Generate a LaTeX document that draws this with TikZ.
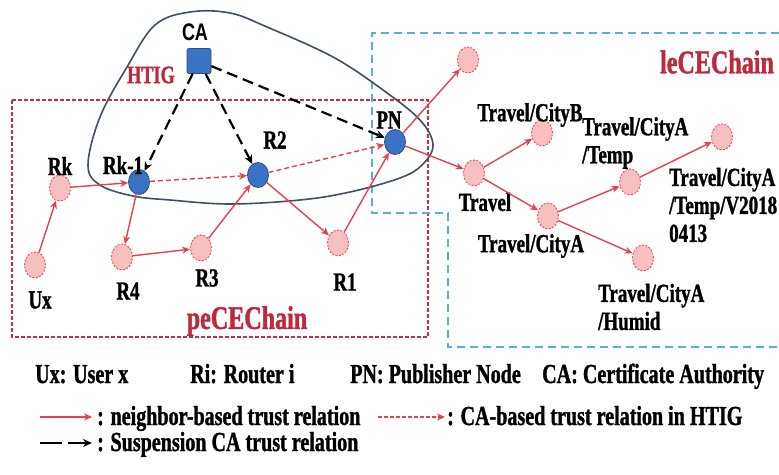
\documentclass[tikz,border=0pt]{standalone}
\usepackage{fontspec}
\setmainfont{Liberation Serif Bold}[FakeStretch=0.73, FakeBold=1.2]
\newfontfamily\casans{Liberation Sans Bold}[FakeStretch=0.75]
\usetikzlibrary{arrows.meta,shapes.geometric,patterns}
\definecolor{ared}{HTML}{E8404E}
\definecolor{dred}{HTML}{C0283C}
\definecolor{boxred}{HTML}{C83040}
\definecolor{npink}{HTML}{F6C2C2}
\definecolor{bblue}{HTML}{3A72C4}
\definecolor{bdark}{HTML}{2A4E8A}
\definecolor{outl}{HTML}{3C5068}
\definecolor{lblue}{HTML}{5AB0D8}
\begin{document}
\begin{tikzpicture}[x=1pt,y=-1pt,
  lbl/.style={font=\fontsize{26}{28}\selectfont, inner sep=0pt, align=left},
  leg/.style={font=\fontsize{27.5}{28}\selectfont, inner sep=0pt, anchor=base west},
  big/.style={font=\fontsize{33}{34}\selectfont, inner sep=0pt, text=dred},
  pnode/.style={ellipse, draw=ared, dash pattern=on 2pt off 1.5pt, line width=0.9pt, fill=npink,
    postaction={pattern=crosshatch dots, pattern color=red!30},
    minimum width=21pt, minimum height=26pt, inner sep=0pt},
  bnode/.style={ellipse, draw=bdark, line width=0.8pt, fill=bblue, minimum width=21pt, minimum height=25pt, inner sep=0pt},
  rarr/.style={draw=ared, line width=1.4pt, -{Stealth[length=8pt,width=7pt]}},
  rdarr/.style={rarr, dash pattern=on 5pt off 3pt},
  karr/.style={draw=black, line width=2.2pt, dash pattern=on 11pt off 6pt, -{Stealth[length=9pt,width=8pt]}}
]
\useasboundingbox (0,0) rectangle (779,474);
\fill[white] (0,0) rectangle (779,474);

% boxes
\draw[boxred, line width=1.3pt, dash pattern=on 4pt off 2pt] (12,100) rectangle (428,337);
\draw[lblue, line width=1.6pt, dash pattern=on 8pt off 5pt] (779,33) -- (372,33) -- (372,213) -- (448,213) -- (448,347) -- (779,347);

% HTIG outline
\draw[outl, line width=1.6pt] plot[smooth cycle, tension=0.6] coordinates {
  (88,165) (100,117) (127,67) (155,25) (190,12) (230,13) (267,27) (333,57) (383,90)
  (420,120) (433,145) (422,165) (400,178) (350,192) (300,200) (230,204) (170,200) (133,196) (100,185)};

% nodes
\node[rectangle, rounded corners=2pt, draw=bdark, line width=0.8pt, fill=bblue, minimum width=24pt, minimum height=25pt, inner sep=0pt] (ca) at (199,61) {};
\node[bnode] (rk1) at (139,182) {};
\node[bnode] (r2) at (258,175) {};
\node[bnode] (pn) at (395,142) {};
\node[pnode] (ux) at (35,265) {};
\node[pnode] (rk) at (60,188) {};
\node[pnode] (r4) at (122,257) {};
\node[pnode] (r3) at (201,248) {};
\node[pnode] (r1) at (338,243) {};
\node[pnode] (top) at (468,60) {};
\node[pnode] (tr) at (474,173) {};
\node[pnode] (cb) at (542,133) {};
\node[pnode] (cya) at (548,216) {};
\node[pnode] (tmp) at (630,182) {};
\node[pnode] (v18) at (722,137) {};
\node[pnode] (hum) at (643,258) {};

% labels
\node[font=\casans\fontsize{24}{26}\selectfont, inner sep=0pt] (lca) at (195,32) {CA};
\node[font=\fontsize{25}{26}\selectfont, text=dred, inner sep=0pt] (lhtig) at (151,75) {HTIG};
\node[lbl] (lrk) at (60,166) {Rk};
\node[lbl] (lrk1) at (123,165) {Rk-1};
\node[lbl] (lr2) at (275,140) {R2};
\node[lbl] (lpn) at (389,120) {PN};
\node[lbl] (lux) at (40,300) {Ux};
\node[lbl] (lr4) at (128,291) {R4};
\node[lbl] (lr3) at (207,278) {R3};
\node[lbl] (lr1) at (345,282) {R1};
\node[lbl] (ltr) at (485,202) {Travel};
\node[lbl] (lcb) at (530,115) {Travel/CityB};
\node[lbl] (lcya) at (531,246) {Travel/CityA};
\node[lbl, anchor=west] (ltmp) at (582,143) {Travel/CityA\\/Temp};
\node[lbl, anchor=west] (lv18) at (669,205) {Travel/CityA\\/Temp/V2018\\0413};
\node[lbl, anchor=west] (lhum) at (598,307) {Travel/CityA\\/Humid};
\node[big] (lpe) at (247,321) {peCEChain};
\node[big] (lle) at (717,62) {leCEChain};

% edges
\draw[rarr] (ux) -- (rk);
\draw[rarr] (rk) -- (rk1);
\draw[rarr] (rk1) -- (r4);
\draw[rarr] (r4) -- (r3);
\draw[rarr] (r3) -- (r2);
\draw[rarr] (r2) -- (r1);
\draw[rarr] (r1) -- (pn);
\draw[rdarr] (rk1) -- (r2);
\draw[rdarr] (r2) -- (pn);
\draw[karr] (ca) -- (rk1);
\draw[karr] (ca) -- (r2);
\draw[karr] (ca) -- (pn);
\draw[rarr] (pn) -- (top);
\draw[rarr] (pn) -- (tr);
\draw[rarr] (tr) -- (cb);
\draw[rarr] (tr) -- (cya);
\draw[rarr] (cya) -- (tmp);
\draw[rarr] (tmp) -- (v18);
\draw[rarr] (cya) -- (hum);

% legend
\node[leg] (g1) at (35,383) {Ux: User x};
\node[leg] (g2) at (190,383) {Ri: Router i};
\node[leg] (g3) at (350,383) {PN: Publisher Node};
\node[leg] (g4) at (542,383) {CA: Certificate Authority};
\coordinate (a1s) at (40,417); \coordinate (a1e) at (92,417);
\draw[rarr, line width=2pt] (a1s) -- (a1e);
\node[leg] (g5) at (97,425) {: neighbor-based trust relation};
\coordinate (a2s) at (378,417); \coordinate (a2e) at (445,417);
\draw[rarr, dash pattern=on 4pt off 2pt] (a2s) -- (a2e);
\node[leg] (g6) at (447,425) {: CA-based trust relation in HTIG};
\coordinate (a3s) at (40,443); \coordinate (a3e) at (92,443);
\draw[karr, dash pattern=on 22pt off 6pt] (a3s) -- (a3e);
\node[leg] (g7) at (97,451) {: Suspension CA trust relation};
\end{tikzpicture}
\end{document}
